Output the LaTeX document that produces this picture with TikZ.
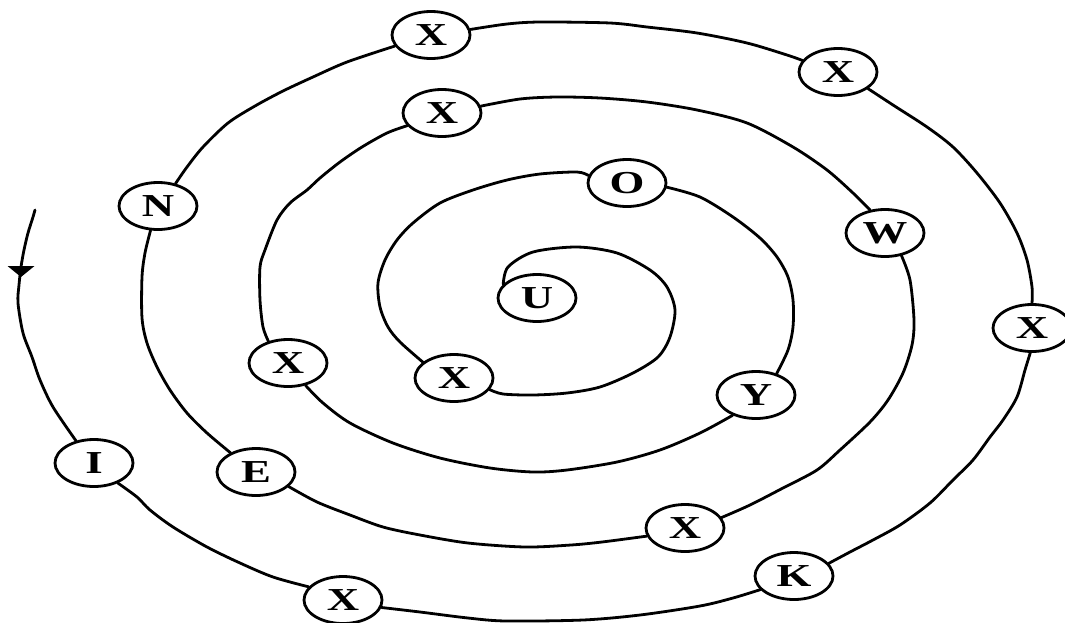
\documentclass[tikz,border=0pt]{standalone}
\usepackage{fontspec}
\newfontfamily\lblfont{Liberation Serif}[FakeStretch=1.4]
\usetikzlibrary{shapes.geometric,backgrounds}
\tikzset{
  orb/.style={ellipse, draw, fill=white, line width=2.8pt, minimum width=78pt,
    minimum height=47pt, inner sep=0pt,
    font=\lblfont\bfseries\fontsize{32}{32}\selectfont},
  spiral/.style={line width=2.8pt, line join=round, line cap=round},
}
\begin{document}
\begin{tikzpicture}[x=1pt,y=-1pt]
\useasboundingbox (0,0) rectangle (1065,622);
\node[orb] (U)  at (537,298) {U};
\node[orb] (X1) at (454,378) {X};
\node[orb] (O)  at (627,183) {O};
\node[orb] (Y)  at (756,395) {Y};
\node[orb] (X2) at (288,363) {X};
\node[orb] (X3) at (442,113) {X};
\node[orb] (W)  at (885,233) {W};
\node[orb] (X4) at (685,528) {X};
\node[orb] (E)  at (256,472) {E};
\node[orb] (N)  at (158,206) {N};
\node[orb] (X5) at (431,35)  {X};
\node[orb] (X6) at (838,72)  {X};
\node[orb] (X7) at (1032,328) {X};
\node[orb] (K)  at (794,576) {K};
\node[orb] (X8) at (343,600) {X};
\node[orb] (I)  at (94,463)  {I};
\coordinate (tail) at (35,210);
\coordinate (ah) at (21,267);
\begin{pgfonlayer}{background}
\draw[spiral] plot[smooth,tension=0.5] coordinates {(U.158) (508,267) (533,252) (577,247) (617,253) (650,270) (667,287) (675,310) (670,337) (658,357) (633,373) (600,387) (567,393) (533,395) (503,394) (X1.342)};
\draw[spiral] plot[smooth,tension=0.5] coordinates {(X1.153) (400,342) (388,327) (380,307) (378,283) (385,260) (397,240) (413,223) (440,203) (473,190) (507,180) (540,174) (577,172) (O.169)};
\draw[spiral] plot[smooth,tension=0.5] coordinates {(O.354) (700,197) (733,217) (760,238) (777,257) (788,277) (793,300) (793,327) (788,350) (Y.46)};
\draw[spiral] plot[smooth,tension=0.5] coordinates {(Y.221) (700,433) (660,450) (617,462) (567,470) (533,472) (490,468) (440,458) (393,443) (350,423) (323,403) (X2.308)};
\draw[spiral] plot[smooth,tension=0.5] coordinates {(X2.132) (263,327) (260,300) (260,267) (265,250) (277,220) (290,203) (307,190) (320,178) (340,162) (362,147) (387,133) (X3.200)};
\draw[spiral] plot[smooth,tension=0.5] coordinates {(X3.10) (520,99) (557,97) (600,98) (647,102) (697,110) (747,123) (793,147) (827,170) (853,193) (W.123)};
\draw[spiral] plot[smooth,tension=0.5] coordinates {(W.306) (910,280) (914,320) (912,345) (903,373) (888,400) (870,422) (840,450) (817,470) (783,488) (750,505) (X4.16)};
\draw[spiral] plot[smooth,tension=0.5] coordinates {(X4.192) (602,542) (571,545) (525,547) (468,543) (420,535) (383,527) (350,515) (317,502) (E.336)};
\draw[spiral] plot[smooth,tension=0.5] coordinates {(E.143) (207,433) (187,413) (170,390) (157,367) (147,343) (142,318) (142,277) (145,253) (N.253)};
\draw[spiral] plot[smooth,tension=0.5] coordinates {(N.52) (187,167) (203,147) (228,123) (255,106) (283,91) (313,77) (347,62) (X5.197)};
\draw[spiral] plot[smooth,tension=0.5] coordinates {(X5.8) (507,24) (540,22) (610,23) (647,27) (697,33) (747,43) (787,55) (X6.162)};
\draw[spiral] plot[smooth,tension=0.5] coordinates {(X6.331) (893,105) (927,127) (953,147) (977,173) (1000,203) (1017,233) (1027,260) (1032,287) (X7.90)};
\draw[spiral] plot[smooth,tension=0.5] coordinates {(X7.266) (1025,370) (1017,397) (1003,420) (990,437) (973,460) (953,480) (930,503) (900,525) (873,540) (850,552) (K.20)};
\draw[spiral] plot[smooth,tension=0.5] coordinates {(K.202) (733,598) (700,606) (640,615) (583,620) (506,621) (468,618) (420,612) (X8.349)};
\draw[spiral] plot[smooth,tension=0.5] coordinates {(X8.159) (273,577) (240,563) (207,547) (173,527) (150,510) (137,497) (I.320)};
\draw[spiral]
  plot[smooth,tension=0.5] coordinates {(tail) (33,217) (28,233) (24,250) (ah) (19,285) (18,303) (23,333) (32,357) (40,380) (53,407) (I.129)};
\fill ([xshift=-13.5pt,yshift=1pt]ah) -- ([xshift=13.5pt,yshift=1pt]ah) -- ([yshift=-10pt]ah) -- cycle;
\end{pgfonlayer}
\end{tikzpicture}
\end{document}
